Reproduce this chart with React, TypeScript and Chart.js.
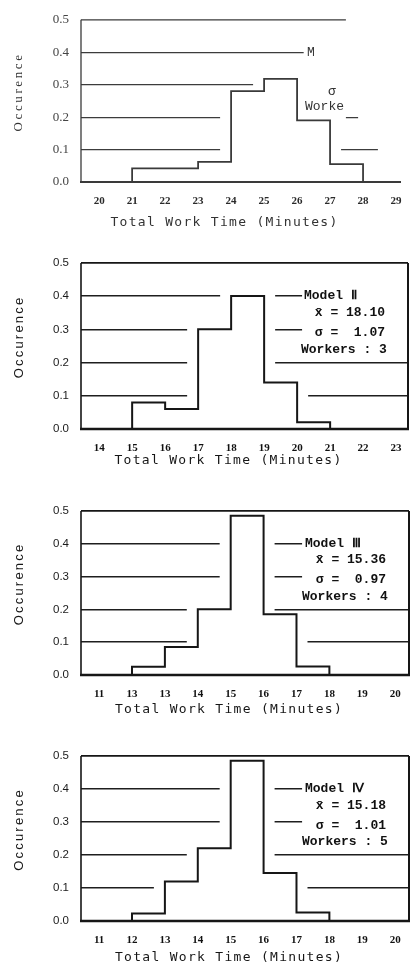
import React, { useEffect, useRef } from "react";
import { Chart, registerables } from "chart.js";

Chart.register(...registerables);

// ---------- Data ----------
// Panel 1
const p1Edges = [21, 23, 24, 25, 26, 27, 28];
const p1Values = [0.042, 0.062, 0.28, 0.318, 0.19, 0.055];
const p1TickValues = [20, 21, 22, 23, 24, 25, 26, 27, 28, 29];
const p1TickLabels = ["20", "21", "22", "23", "24", "25", "26", "27", "28", "29"];
const p1Legend = ["M", "σ", "Worke"];

// Panel 2
const p2Edges = [15, 16, 17, 18, 19, 20, 21];
const p2Values = [0.08, 0.06, 0.3, 0.4, 0.14, 0.02];
const p2TickValues = [14, 15, 16, 17, 18, 19, 20, 21, 22, 23];
const p2TickLabels = ["14", "15", "16", "17", "18", "19", "20", "21", "22", "23"];
const p2Legend = ["Model Ⅱ", "x̄ = 18.10", "σ =  1.07", "Workers : 3"];

// Panel 3
const p3Edges = [12, 13, 14, 15, 16, 17, 18];
const p3Values = [0.025, 0.085, 0.2, 0.485, 0.185, 0.026];
const p3TickValues = [11, 12, 13, 14, 15, 16, 17, 18, 19, 20];
const p3TickLabels = ["11", "13", "13", "14", "15", "16", "17", "18", "19", "20"];
const p3Legend = ["Model Ⅲ", "x̄ = 15.36", "σ =  0.97", "Workers : 4"];

// Panel 4
const p4Edges = [12, 13, 14, 15, 16, 17, 18];
const p4Values = [0.023, 0.12, 0.22, 0.485, 0.145, 0.026];
const p4TickValues = [11, 12, 13, 14, 15, 16, 17, 18, 19, 20];
const p4TickLabels = ["11", "12", "13", "14", "15", "16", "17", "18", "19", "20"];
const p4Legend = ["Model Ⅳ", "x̄ = 15.18", "σ =  1.01", "Workers : 5"];

const xTitle = "Total Work Time (Minutes)";
const yTitle = "Occurence";

// ---------- Layout / style ----------
type LegendPos = { dx: number; y: number; align: "left" | "right" };
type PanelCfg = {
  edges: number[];
  values: number[];
  tickValues: number[];
  tickLabels: string[];
  legend: string[];
  legendPos: LegendPos[];
  xMin: number;
  xMax: number;
  top: number;
  bottom: number;
  right: number;
  topEnd?: number;
  rightBorder: boolean;
  blanks: number[][];
  faded: boolean;
  xTitleDy: number;
};

const stdLegendPos: LegendPos[] = [
  { dx: -104, y: 0.4, align: "left" },
  { dx: -23, y: 0.35, align: "right" },
  { dx: -23, y: 0.29, align: "right" },
  { dx: -107, y: 0.24, align: "left" },
];
const p1LegendPos: LegendPos[] = [
  { dx: -93, y: 0.4, align: "left" },
  { dx: -72, y: 0.278, align: "left" },
  { dx: -95, y: 0.233, align: "left" },
];

const PAD_TOP = 8;
const X_AXIS_H = 45;
const Y_AXIS_W = 81;

const panels: PanelCfg[] = [
  {
    edges: p1Edges, values: p1Values, tickValues: p1TickValues, tickLabels: p1TickLabels,
    legend: p1Legend, legendPos: p1LegendPos,
    xMin: 19.45, xMax: 29.12, top: 8, bottom: 182, right: 400,
    topEnd: 27.48, rightBorder: false,
    blanks: [
      [26.2, 29.2, 0.215, 0.46],
      [26.0, 27.48, 0.17, 0.215],
      [27.85, 29.2, 0.17, 0.215],
      [28.45, 29.2, 0.07, 0.13],
    ],
    faded: true, xTitleDy: 41,
  },
  {
    edges: p2Edges, values: p2Values, tickValues: p2TickValues, tickLabels: p2TickLabels,
    legend: p2Legend, legendPos: stdLegendPos,
    xMin: 13.45, xMax: 23.36, top: 252, bottom: 429, right: 408,
    rightBorder: true,
    blanks: [[20.15, 23.4, 0.225, 0.45]],
    faded: false, xTitleDy: 32,
  },
  {
    edges: p3Edges, values: p3Values, tickValues: p3TickValues, tickLabels: p3TickLabels,
    legend: p3Legend, legendPos: stdLegendPos,
    xMin: 10.45, xMax: 20.42, top: 500, bottom: 675, right: 409,
    rightBorder: true,
    blanks: [[17.17, 20.5, 0.225, 0.45]],
    faded: false, xTitleDy: 35,
  },
  {
    edges: p4Edges, values: p4Values, tickValues: p4TickValues, tickLabels: p4TickLabels,
    legend: p4Legend, legendPos: stdLegendPos,
    xMin: 10.45, xMax: 20.42, top: 745, bottom: 921, right: 409,
    rightBorder: true,
    blanks: [[17.17, 20.5, 0.225, 0.45]],
    faded: false, xTitleDy: 37,
  },
];

function stepPoints(edges: number[], values: number[]) {
  const pts: { x: number; y: number }[] = [{ x: edges[0], y: 0 }];
  values.forEach((v, i) => pts.push({ x: edges[i], y: v }));
  pts.push({ x: edges[edges.length - 1], y: 0 });
  return pts;
}

function makePlugin(p: PanelCfg) {
  const ink = p.faded ? "#3a3a3a" : "#161616";
  return {
    id: "paper",
    beforeDatasetsDraw(chart: any) {
      const { ctx, chartArea: a, scales } = chart;
      const x = scales.x;
      const y = scales.y;
      ctx.save();
      ctx.beginPath();
      ctx.rect(a.left, a.top, a.right - a.left, a.bottom - a.top);
      ctx.clip();
      ctx.fillStyle = "#ffffff";
      const m = 11;
      for (let i = 0; i < p.values.length; i++) {
        const x0 = x.getPixelForValue(p.edges[i]) - m;
        const x1 = x.getPixelForValue(p.edges[i + 1]) + m;
        const yt = y.getPixelForValue(p.values[i]) - 3;
        ctx.fillRect(x0, yt, x1 - x0, a.bottom - yt);
      }
      for (const b of p.blanks) {
        const x0 = x.getPixelForValue(b[0]);
        const x1 = x.getPixelForValue(b[1]);
        const y0 = y.getPixelForValue(b[3]);
        const y1 = y.getPixelForValue(b[2]);
        ctx.fillRect(x0, y0, x1 - x0, y1 - y0);
      }
      ctx.restore();
    },
    afterDatasetsDraw(chart: any) {
      const { ctx, chartArea: a, scales } = chart;
      const x = scales.x;
      const y = scales.y;
      ctx.save();
      ctx.strokeStyle = ink;
      ctx.lineCap = "butt";
      // left border
      ctx.lineWidth = p.faded ? 1.3 : 1.6;
      ctx.beginPath();
      ctx.moveTo(a.left, a.top);
      ctx.lineTo(a.left, a.bottom);
      ctx.stroke();
      // top border
      const topEnd = p.topEnd !== undefined ? x.getPixelForValue(p.topEnd) : a.right;
      ctx.beginPath();
      ctx.moveTo(a.left, a.top);
      ctx.lineTo(topEnd, a.top);
      ctx.stroke();
      // right border
      if (p.rightBorder) {
        ctx.lineWidth = 2;
        ctx.beginPath();
        ctx.moveTo(a.right, a.top);
        ctx.lineTo(a.right, a.bottom);
        ctx.stroke();
      }
      // bottom axis
      ctx.lineWidth = p.faded ? 1.8 : 2.4;
      ctx.beginPath();
      ctx.moveTo(a.left - 1, a.bottom);
      ctx.lineTo(a.right + 1, a.bottom);
      ctx.stroke();

      // legend text
      ctx.fillStyle = p.faded ? "#333" : "#111";
      ctx.font = p.faded
        ? "13px 'Liberation Mono', monospace"
        : "bold 13px 'Liberation Mono', 'DejaVu Sans Mono', monospace";
      ctx.textBaseline = "middle";
      p.legend.forEach((t, i) => {
        const pos = p.legendPos[i];
        if (!pos) return;
        ctx.textAlign = pos.align;
        ctx.fillText(t, a.right + pos.dx, y.getPixelForValue(pos.y));
      });

      // axis titles
      ctx.fillStyle = p.faded ? "#333" : "#161616";
      ctx.textAlign = "center";
      ctx.textBaseline = "middle";
      (ctx as any).letterSpacing = "1.3px";
      ctx.font = "13px 'DejaVu Sans Mono', 'Liberation Mono', monospace";
      ctx.fillText(xTitle, (a.left + a.right) / 2 - 16, a.bottom + p.xTitleDy);

      (ctx as any).letterSpacing = p.faded ? "2.6px" : "2.2px";
      ctx.font = p.faded ? "13px 'Liberation Serif', serif" : "13px 'Liberation Sans', Arial, sans-serif";
      ctx.translate(19, (a.top + a.bottom) / 2 - 9);
      ctx.rotate(-Math.PI / 2);
      ctx.fillText(yTitle, 0, 0);
      ctx.restore();
    },
  };
}

function PanelChart({ p }: { p: PanelCfg }) {
  const ref = useRef<HTMLCanvasElement>(null);
  const h = p.bottom - p.top + PAD_TOP + X_AXIS_H;
  useEffect(() => {
    const ink = p.faded ? "#3a3a3a" : "#161616";
    const gridColor = p.faded ? "#3c3c3c" : "#1e1e1e";
    const chart = new Chart(ref.current as HTMLCanvasElement, {
      type: "line",
      data: {
        datasets: [
          {
            data: stepPoints(p.edges, p.values),
            stepped: true,
            borderColor: ink,
            borderWidth: p.faded ? 1.8 : 2,
            pointRadius: 0,
            fill: false,
            tension: 0,
          },
        ],
      },
      options: {
        animation: false,
        responsive: false,
        events: [],
        layout: { padding: { top: PAD_TOP, right: 416 - p.right, left: 0, bottom: 0 } },
        plugins: { legend: { display: false }, tooltip: { enabled: false }, title: { display: false } },
        scales: {
          x: {
            type: "linear",
            min: p.xMin,
            max: p.xMax,
            grid: { display: false, drawTicks: false },
            border: { display: false },
            afterBuildTicks: (s: any) => {
              s.ticks = p.tickValues.filter((v) => v >= p.xMin && v <= p.xMax).map((v) => ({ value: v }));
            },
            afterFit: (s: any) => {
              s.height = X_AXIS_H;
            },
            ticks: {
              autoSkip: false,
              maxRotation: 0,
              padding: 13,
              color: p.faded ? "#2a2a2a" : "#111",
              font: { family: "'Liberation Serif', serif", size: 11, weight: "bold" },
              callback: (v: any) => {
                const i = p.tickValues.indexOf(Number(v));
                return i >= 0 ? p.tickLabels[i] : "";
              },
            },
          },
          y: {
            type: "linear",
            min: 0,
            max: 0.5,
            grid: {
              drawTicks: false,
              lineWidth: p.faded ? 1.2 : 1.5,
              color: (c: any) =>
                c.tick && (Math.abs(c.tick.value) < 1e-6 || c.tick.value > 0.49) ? "rgba(0,0,0,0)" : gridColor,
            },
            border: { display: false },
            afterFit: (s: any) => {
              s.width = Y_AXIS_W;
            },
            ticks: {
              stepSize: 0.1,
              padding: 12,
              color: p.faded ? "#444" : "#1a1a1a",
              font: p.faded
                ? { family: "'Liberation Serif', serif", size: 13 }
                : { family: "'Liberation Sans', Arial, sans-serif", size: 11.5 },
              callback: (v: any) => Number(v).toFixed(1),
            },
          },
        },
      },
      plugins: [makePlugin(p)],
    } as any);
    return () => chart.destroy();
  }, []);
  return (
    <canvas
      ref={ref}
      width={416}
      height={h}
      style={{ position: "absolute", left: 0, top: p.top - PAD_TOP, width: 416, height: h, display: "block" }}
    />
  );
}

export default function App() {
  return (
    <div
      style={{
        position: "fixed",
        left: 0,
        top: 0,
        width: 416,
        height: 968,
        overflow: "hidden",
        background: "#ffffff",
      }}
    >
      {panels.map((p, i) => (
        <PanelChart key={i} p={p} />
      ))}
    </div>
  );
}
